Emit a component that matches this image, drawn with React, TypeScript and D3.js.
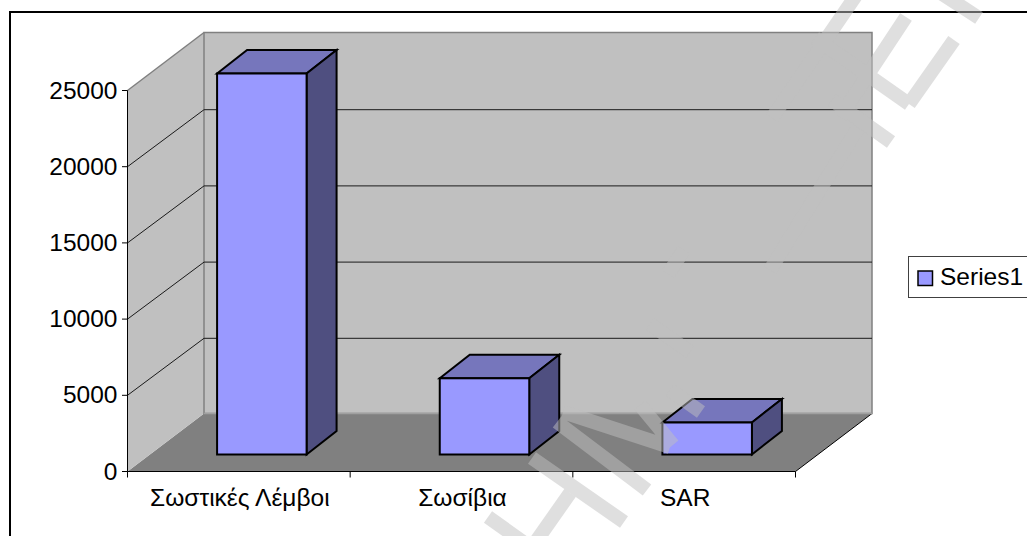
import React from "react";
import * as d3 from "d3";

// Chart data
const categories = ["Σωστικές Λέμβοι", "Σωσίβια", "SAR"];
const seriesName = "Series1";
const seriesValues = [25000, 5000, 2100];
const yTicks = [0, 5000, 10000, 15000, 20000, 25000];

// Diagonal overlay lettering, as centre-line segments [x1, y1, x2, y2]
const overlayStrokes: number[][] = [
  [857, -6, 772, 118],
  [906, 17, 840, 117],
  [954, 40, 909, 104],
  [909, 104, 815, 38],
  [891, 142, 832, 100],
  [858, 128, 770, 270],
  [979, 18, 930, -14],
  [684, 250, 668, 274],
  [650, 324, 690, 352],
  [557, 422, 647, 490],
  [563, 412, 670, 447],
  [673, 445, 640, 405],
  [701, 412, 670, 390],
  [532, 458, 624, 522],
  [570, 493, 530, 550],
  [488, 517, 530, 547],
];

const FONT = "'Liberation Sans', Arial, sans-serif";
const WALL = "#c0c0c0";
const FLOOR = "#808080";
const FACE = "#9999ff";
const TOP = "#7676bc";
const SIDE = "#4f4f80";

// Plot frame and oblique projection offsets
const x0 = 127.5;
const x1 = 795.5;
const yBase = 471.5;
const yTop = 90.5;
const depthX = 76.5;
const depthY = 58;
const gridDepthY = 57;
const barDepthX = 30;
const barDepthY = 23.5;
const barInsetX = 23;
const barInsetY = 17;
const barWidth = 89.5;

export default function App() {
  const y = d3.scaleLinear().domain([0, 25000]).range([yBase, yTop]);
  const x = d3.scaleBand<string>().domain(categories).range([x0, x1]);
  const bandEdges = [...categories.map((c) => x(c) as number), x1];
  const poly = d3.line();

  const bars = categories.map((c, i) => {
    const left = (x(c) as number) + x.bandwidth() / 2 + barInsetX - barWidth / 2;
    const right = left + barWidth;
    const bottom = yBase - barInsetY;
    const top = y(seriesValues[i]) - barInsetY;
    return { c, left, right, bottom, top };
  });

  return (
    <svg
      width={1027}
      height={536}
      viewBox="0 0 1027 536"
      style={{ position: "absolute", left: 0, top: 0, display: "block", background: "#fff" }}
      fontFamily={FONT}
    >
      {/* Chart area outline, running past the right and bottom edges */}
      <rect x={10} y={12} width={1100} height={600} fill="#fff" stroke="#000" strokeWidth={2} />

      {/* Floor */}
      <path
        d={poly([[x0, yBase], [x0 + depthX, yBase - depthY], [x1 + depthX, yBase - depthY], [x1, yBase]])!}
        fill={FLOOR}
      />
      <line x1={x1} y1={yBase} x2={x1 + depthX} y2={yBase - depthY} stroke="#000" />

      {/* Side wall */}
      <path
        d={poly([[x0, yBase], [x0, yTop], [x0 + depthX, yTop - depthY], [x0 + depthX, yBase - depthY]])!}
        fill={WALL}
      />
      {/* Back wall */}
      <rect
        x={x0 + depthX}
        y={yTop - depthY}
        width={x1 - x0}
        height={yBase - yTop}
        fill={WALL}
        stroke={FLOOR}
        strokeWidth={1.5}
      />
      <line x1={x0 + depthX} y1={yBase - depthY} x2={x1 + depthX} y2={yBase - depthY} stroke="#a0a0a0" strokeWidth={1.5} />
      <line x1={x0} y1={yTop} x2={x0 + depthX} y2={yTop - depthY} stroke={FLOOR} strokeWidth={1.5} />

      {/* Gridlines along both walls */}
      {yTicks.slice(1, -1).map((t) => (
        <path
          key={t}
          d={poly([[x0, y(t)], [x0 + depthX, y(t) - gridDepthY], [x1 + depthX, y(t) - gridDepthY]])!}
          fill="none"
          stroke="#1a1a1a"
          strokeWidth={1}
        />
      ))}

      {/* Boxes */}
      {bars.map((b) => (
        <g key={b.c} stroke="#000" strokeWidth={2} strokeLinejoin="miter">
          <path
            d={poly([[b.left, b.top], [b.left + barDepthX, b.top - barDepthY], [b.right + barDepthX, b.top - barDepthY], [b.right, b.top]])! + "Z"}
            fill={TOP}
          />
          <path
            d={poly([[b.right, b.top], [b.right + barDepthX, b.top - barDepthY], [b.right + barDepthX, b.bottom - barDepthY], [b.right, b.bottom]])! + "Z"}
            fill={SIDE}
          />
          <rect x={b.left} y={b.top} width={barWidth} height={b.bottom - b.top} fill={FACE} />
        </g>
      ))}

      {/* Value axis */}
      <line x1={x0} y1={yTop} x2={x0} y2={yBase} stroke="#000" />
      {yTicks.map((t) => (
        <g key={t}>
          <line x1={x0 - 5.5} y1={y(t)} x2={x0} y2={y(t)} stroke="#000" />
          <text x={117.5} y={y(t) + 8} textAnchor="end" fontSize={24.5} fill="#000">
            {t}
          </text>
        </g>
      ))}

      {/* Category axis */}
      <line x1={x0} y1={yBase} x2={x1} y2={yBase} stroke="#000" />
      {bandEdges.map((e) => (
        <line key={e} x1={e} y1={yBase} x2={e} y2={yBase + 6} stroke="#000" />
      ))}
      {categories.map((c) => (
        <text
          key={c}
          x={(x(c) as number) + x.bandwidth() / 2 + 1}
          y={506}
          textAnchor="middle"
          fontSize={24.5}
          fill="#000"
        >
          {c}
        </text>
      ))}

      {/* Legend */}
      <rect x={908.5} y={256.5} width={130} height={41} fill="#fff" stroke="#404040" strokeWidth={1} />
      <rect x={918} y={271} width={14.5} height={14.5} fill={FACE} stroke="#000" strokeWidth={1.5} />
      <text x={940} y={285} fontSize={24.5} fill="#000">
        {seriesName}
      </text>

      {/* Translucent diagonal lettering laid over the whole chart */}
      <g opacity={0.5} stroke="#c0c0c0" strokeWidth={14} fill="none" strokeLinecap="butt">
        <path d={overlayStrokes.map((s) => `M${s[0]},${s[1]}L${s[2]},${s[3]}`).join("")} />
      </g>
    </svg>
  );
}
